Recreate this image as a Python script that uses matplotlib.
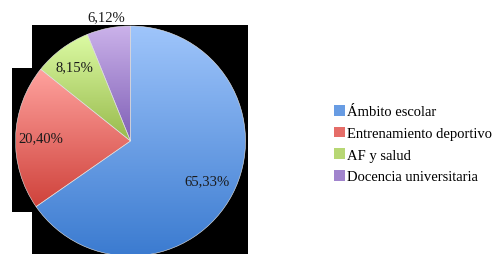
import numpy as np
import matplotlib
matplotlib.use('Agg')
import matplotlib.pyplot as plt
from matplotlib.patches import Rectangle, Patch
from matplotlib.colors import LinearSegmentedColormap

plt.rcParams['font.family'] = ['Liberation Serif', 'DejaVu Serif']

# data
categories = ['Ámbito escolar', 'Entrenamiento deportivo', 'AF y salud', 'Docencia universitaria']
values = [65.33, 20.40, 8.15, 6.12]
# gradient colours per slice (top, bottom)
top_colors = ['#9fc5fb', '#ffa29e', '#dcfba4', '#cbb2ea']
bottom_colors = ['#3b7bd0', '#cf423b', '#98ba4c', '#7f5fb6']
label_dist = [0.75, 0.78, 0.81, 1.10]

W, H = 497, 255
fig = plt.figure(figsize=(W / 100, H / 100), dpi=100)
ax = fig.add_axes([0, 0, 1, 1])

# black backdrop behind the pie
ax.add_patch(Rectangle((32, 0), 216, H - 26, facecolor='black', edgecolor='none', zorder=0))
ax.add_patch(Rectangle((12, H - 213), 20, 144, facecolor='black', edgecolor='none', zorder=0))

cx, cy, r = 130.5, H - 142, 115
wedges, _ = ax.pie(values, startangle=90, counterclock=False, center=(cx, cy),
                   radius=r, frame=True,
                   wedgeprops=dict(edgecolor='#e8e8e8', linewidth=0.4, zorder=2))
ax.set_xlim(0, W)
ax.set_ylim(0, H)
ax.set_aspect('equal')
ax.axis('off')

grad = np.linspace(0, 1, 256).reshape(-1, 1)
for w, c0, c1 in zip(wedges, top_colors, bottom_colors):
    w.set_facecolor('none')
    cmap = LinearSegmentedColormap.from_list('g', [c0, c1])
    bb = w.get_path().get_extents()
    im = ax.imshow(grad, cmap=cmap, aspect='auto', origin='upper',
                   extent=[bb.x0, bb.x1, bb.y0, bb.y1], zorder=1)
    im.set_clip_path(w)

# percent labels
start = 90.0
for v, d in zip(values, label_dist):
    sweep = v / sum(values) * 360
    mid = np.deg2rad(start - sweep / 2)
    start -= sweep
    ax.text(cx + d * r * np.cos(mid), cy + d * r * np.sin(mid),
            f'{v:.2f}'.replace('.', ',') + '%', ha='center', va='center',
            fontsize=10.5, color='#1a1a1a', zorder=3)

handles = [Patch(facecolor=LinearSegmentedColormap.from_list('g', [a, b])(0.55), edgecolor='none')
           for a, b in zip(top_colors, bottom_colors)]
ax.legend(handles, categories, loc='upper left', bbox_to_anchor=(328 / W, 1 - 100 / H),
          frameon=False, fontsize=10.5, handlelength=0.75, handleheight=0.75,
          handletextpad=0.15, labelspacing=0.57, borderaxespad=0)

fig.savefig('out.png', dpi=100)
